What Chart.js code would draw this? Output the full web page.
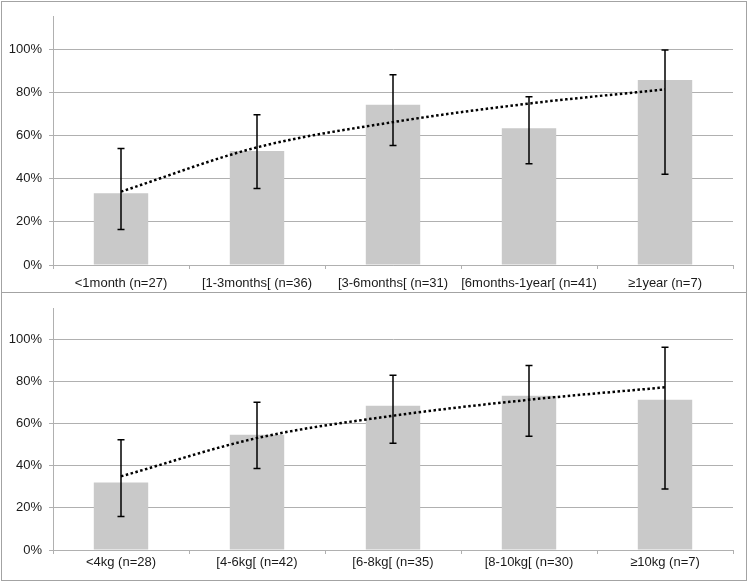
<!DOCTYPE html>
<html><head><meta charset="utf-8">
<script src="https://cdn.jsdelivr.net/npm/chart.js@4.4.0/dist/chart.umd.min.js"></script>
<style>
body{margin:0;background:#fff;width:750px;height:583px;overflow:hidden;position:relative}
.box{position:absolute;left:1px;width:744px;border:1px solid #a3a3a3;background:#fff}
#b1{top:1px;height:290px}
#b2{top:293px;height:287px;border-top:none}
canvas{display:block}
</style></head><body>
<div class="box" id="b1"><canvas id="c1" width="744" height="290"></canvas></div>
<div class="box" id="b2"><canvas id="c2" width="744" height="287"></canvas></div>
<script>
// ---- Data (percent) ----
const ageCategories = ['<1month (n=27)', '[1-3months[ (n=36)', '[3-6months[ (n=31)', '[6months-1year[ (n=41)', '\u22651year (n=7)'];
const ageValues = [33.3, 52.8, 74.2, 63.4, 85.7];
const ageLower  = [16.5, 35.5, 55.4, 46.9, 42.1];
const ageUpper  = [54.0, 69.6, 88.1, 77.9, 99.6];
const ageTrend  = [34.0, 54.5, 66.2, 74.8, 81.4];

const weightCategories = ['<4kg (n=28)', '[4-6kg[ (n=42)', '[6-8kg[ (n=35)', '[8-10kg[ (n=30)', '\u226510kg (n=7)'];
const weightValues = [32.1, 54.8, 68.6, 73.3, 71.4];
const weightLower  = [15.9, 38.7, 50.7, 54.1, 29.0];
const weightUpper  = [52.4, 70.2, 83.1, 87.7, 96.3];
const weightTrend  = [35.0, 53.2, 63.8, 71.4, 77.3];

const yTickValues = [0, 20, 40, 60, 80, 100];
const yMax = 115;

const GRID = '#b0b0b0';
const BAR = '#c9c9c9';
const FONT = {family: "'Liberation Sans', Arial, sans-serif", size: 13};

const errorBars = {
  id: 'errorBars',
  afterDatasetsDraw(chart, args, opts) {
    const ctx = chart.ctx, y = chart.scales.y;
    const meta = chart.getDatasetMeta(0);
    ctx.save();
    ctx.strokeStyle = '#000';
    ctx.lineWidth = 1.5;
    meta.data.forEach((bar, i) => {
      const x = bar.x;
      const yl = y.getPixelForValue(opts.lower[i]);
      const yu = y.getPixelForValue(opts.upper[i]);
      ctx.beginPath();
      ctx.moveTo(x, yl); ctx.lineTo(x, yu);
      ctx.moveTo(x - 3.5, yl); ctx.lineTo(x + 3.5, yl);
      ctx.moveTo(x - 3.5, yu); ctx.lineTo(x + 3.5, yu);
      ctx.stroke();
    });
    ctx.restore();
  }
};

function makeChart(id, cats, vals, lower, upper, trend, L) {
  return new Chart(document.getElementById(id), {
    type: 'bar',
    data: {
      labels: cats,
      datasets: [
        {type: 'bar', data: vals, backgroundColor: BAR, borderWidth: 0,
         categoryPercentage: 1, barPercentage: 0.4, order: 1},
        {type: 'line', data: trend, borderColor: '#000', borderWidth: 2.5,
         borderDash: [2.5, 2.5], pointRadius: 0, fill: false,
         cubicInterpolationMode: 'monotone', order: 0}
      ]
    },
    options: {
      responsive: false, animation: false,
      layout: {padding: {left: 0, right: L.right, top: L.top, bottom: 0}},
      plugins: {legend: {display: false}, tooltip: {enabled: false},
                errorBars: {lower: lower, upper: upper}},
      scales: {
        x: {
          grid: {display: true, drawOnChartArea: false, drawTicks: true, tickLength: 4, color: GRID, offset: true},
          border: {display: true, color: GRID, width: 1},
          ticks: {font: FONT, color: '#1a1a1a', padding: L.xpad, maxRotation: 0, autoSkip: false},
          afterFit(s) { s.height = L.xh; }
        },
        y: {
          min: 0, max: yMax,
          grid: {color: GRID, tickLength: 4, drawTicks: true},
          border: {display: true, color: GRID, width: 1},
          ticks: {font: FONT, color: '#1a1a1a', padding: 7, callback: v => v + '%'},
          afterBuildTicks(s) { s.ticks = yTickValues.map(v => ({value: v})); },
          afterFit(s) { s.width = 51; }
        }
      }
    },
    plugins: [errorBars]
  });
}

makeChart('c1', ageCategories, ageValues, ageLower, ageUpper, ageTrend,
  {right: 13, top: 14, xh: 27, xpad: 7});
makeChart('c2', weightCategories, weightValues, weightLower, weightUpper, weightTrend,
  {right: 13, top: 15, xh: 30, xpad: 1});
</script>
</body></html>
